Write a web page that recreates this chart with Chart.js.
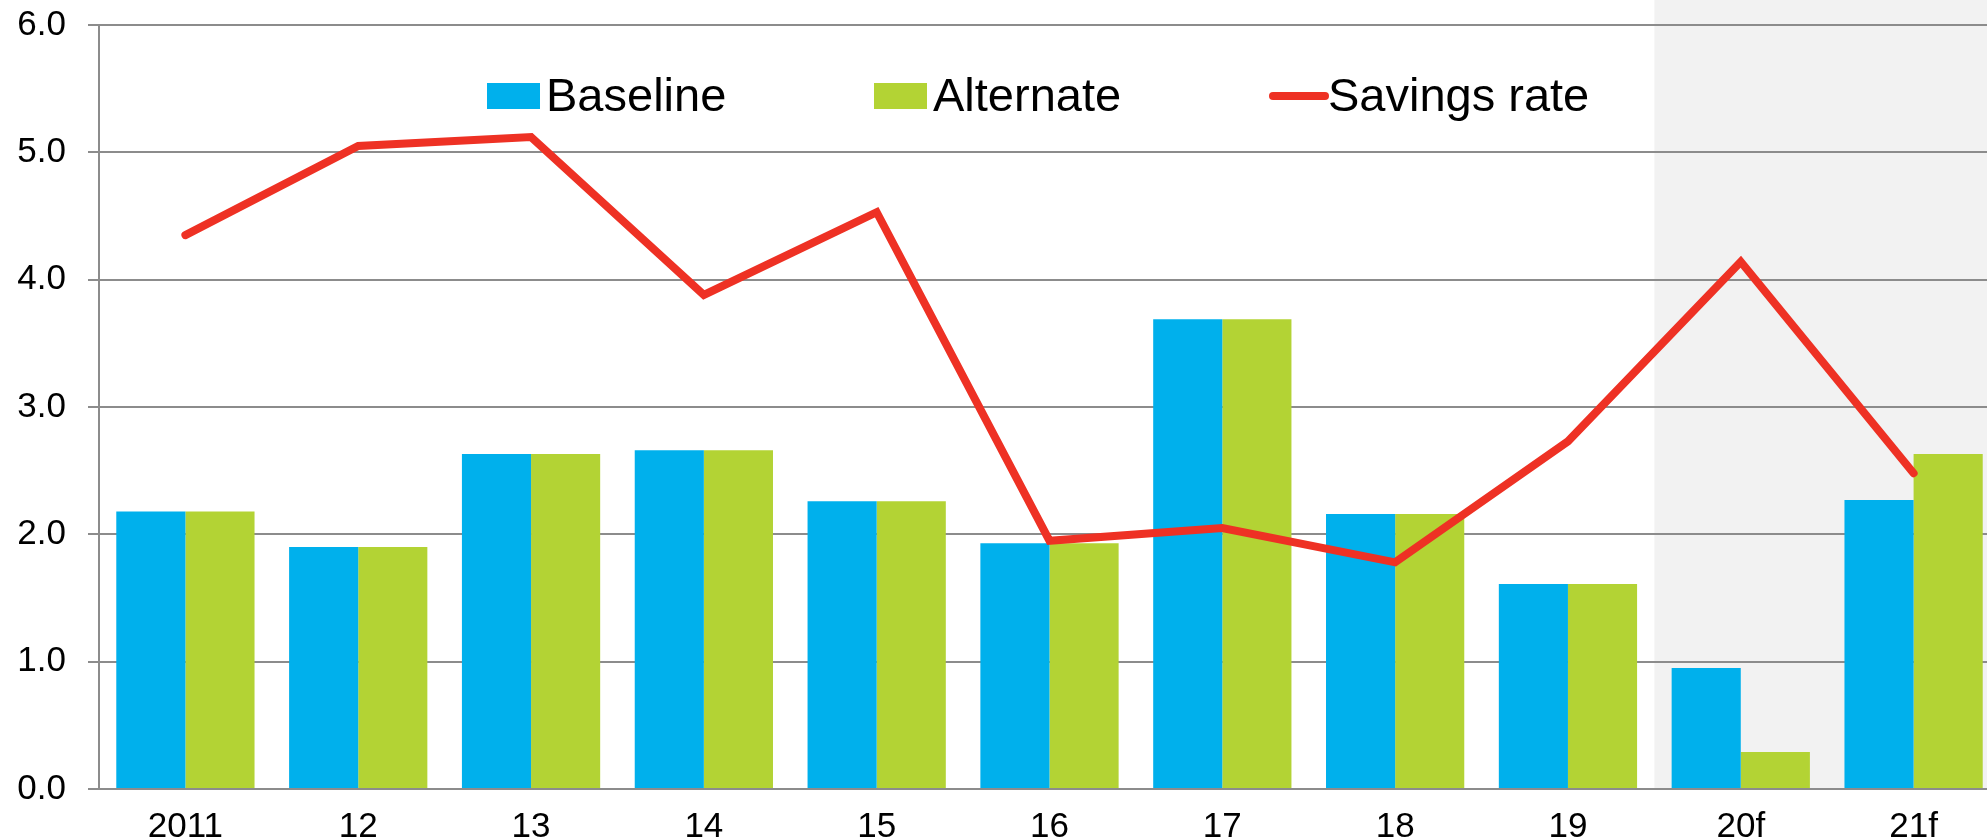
<!DOCTYPE html>
<html>
<head>
<meta charset="utf-8">
<script src="https://cdn.jsdelivr.net/npm/chart.js@4"></script>
<style>
  html, body { margin: 0; padding: 0; background: #fff; overflow: hidden; }
  #chart { display: block; }
</style>
</head>
<body>
<canvas id="chart" width="2000" height="840"></canvas>
<script>
const years = ["2011", "12", "13", "14", "15", "16", "17", "18", "19", "20f", "21f"];
const baseline = [2.18, 1.9, 2.63, 2.66, 2.26, 1.93, 3.69, 2.16, 1.61, 0.95, 2.27];
const alternate = [2.18, 1.9, 2.63, 2.66, 2.26, 1.93, 3.69, 2.16, 1.61, 0.29, 2.63];
const savingsRate = [4.35, 5.05, 5.12, 3.88, 4.53, 1.95, 2.05, 1.78, 2.73, 4.14, 2.48];
const forecastStart = "20f";

const BLUE = "#00B0EC";
const GREEN = "#B3D334";
const RED = "#EE3124";
const GRID = "#8C8C8C";
const TICK_FONT = { family: "'Liberation Sans', Arial, sans-serif", size: 35 };

// grey band behind the forecast years
const forecastShade = {
  id: "forecastShade",
  beforeDraw(chart) {
    const x = chart.scales.x;
    const i = years.indexOf(forecastStart);
    const left = (x.getPixelForTick(i - 1) + x.getPixelForTick(i)) / 2;
    const ctx = chart.ctx;
    ctx.save();
    ctx.fillStyle = "#F2F2F2";
    ctx.fillRect(left, 0, chart.width - left, chart.chartArea.bottom);
    ctx.restore();
  },
};

// legend laid out like the original (uneven spacing)
const customLegend = {
  id: "customLegend",
  afterDraw(chart) {
    const ctx = chart.ctx;
    const items = [
      { text: "Baseline", color: BLUE, kind: "box", x: 487 },
      { text: "Alternate", color: GREEN, kind: "box", x: 874 },
      { text: "Savings rate", color: RED, kind: "line", x: 1269 },
    ];
    const cy = 96;
    ctx.save();
    ctx.font = "47px 'Liberation Sans', Arial, sans-serif";
    ctx.textBaseline = "middle";
    items.forEach((it) => {
      if (it.kind === "box") {
        ctx.fillStyle = it.color;
        ctx.fillRect(it.x, cy - 13, 53, 26);
      } else {
        ctx.strokeStyle = it.color;
        ctx.lineWidth = 8;
        ctx.lineCap = "round";
        ctx.beginPath();
        ctx.moveTo(it.x + 4, cy);
        ctx.lineTo(it.x + 56, cy);
        ctx.stroke();
      }
      ctx.fillStyle = "#000";
      ctx.fillText(it.text, it.x + 59, cy + 2);
    });
    ctx.restore();
  },
};

new Chart(document.getElementById("chart").getContext("2d"), {
  type: "bar",
  data: {
    labels: years,
    datasets: [
      {
        type: "line",
        label: "Savings rate",
        data: savingsRate,
        borderColor: RED,
        backgroundColor: RED,
        borderWidth: 8,
        pointRadius: 0,
        borderCapStyle: "round",
        tension: 0,
        order: 0,
      },
      {
        label: "Baseline",
        data: baseline,
        backgroundColor: BLUE,
        categoryPercentage: 0.8,
        barPercentage: 1.0,
        order: 1,
      },
      {
        label: "Alternate",
        data: alternate,
        backgroundColor: GREEN,
        categoryPercentage: 0.8,
        barPercentage: 1.0,
        order: 1,
      },
    ],
  },
  options: {
    responsive: false,
    animation: false,
    layout: { padding: { top: 25, left: 0, right: 0, bottom: 0 } },
    plugins: {
      legend: { display: false },
      tooltip: { enabled: false },
    },
    scales: {
      x: {
        afterFit: (s) => { s.height = 51; },
        grid: { display: false, drawTicks: false },
        border: { display: true, color: GRID, width: 2 },
        ticks: {
          color: "#000",
          padding: 17,
          font: TICK_FONT,
        },
      },
      y: {
        min: 0,
        max: 6,
        afterFit: (s) => {
          s.width = 99;
          s.paddingTop = 0;
          s.paddingBottom = 0;
        },
        grid: { color: GRID, lineWidth: 2, tickLength: 11 },
        border: { display: true, color: GRID, width: 2 },
        ticks: {
          stepSize: 1,
          color: "#000",
          padding: 22,
          font: TICK_FONT,
          callback: (v) => v.toFixed(1),
        },
      },
    },
  },
  plugins: [forecastShade, customLegend],
});
</script>
</body>
</html>
